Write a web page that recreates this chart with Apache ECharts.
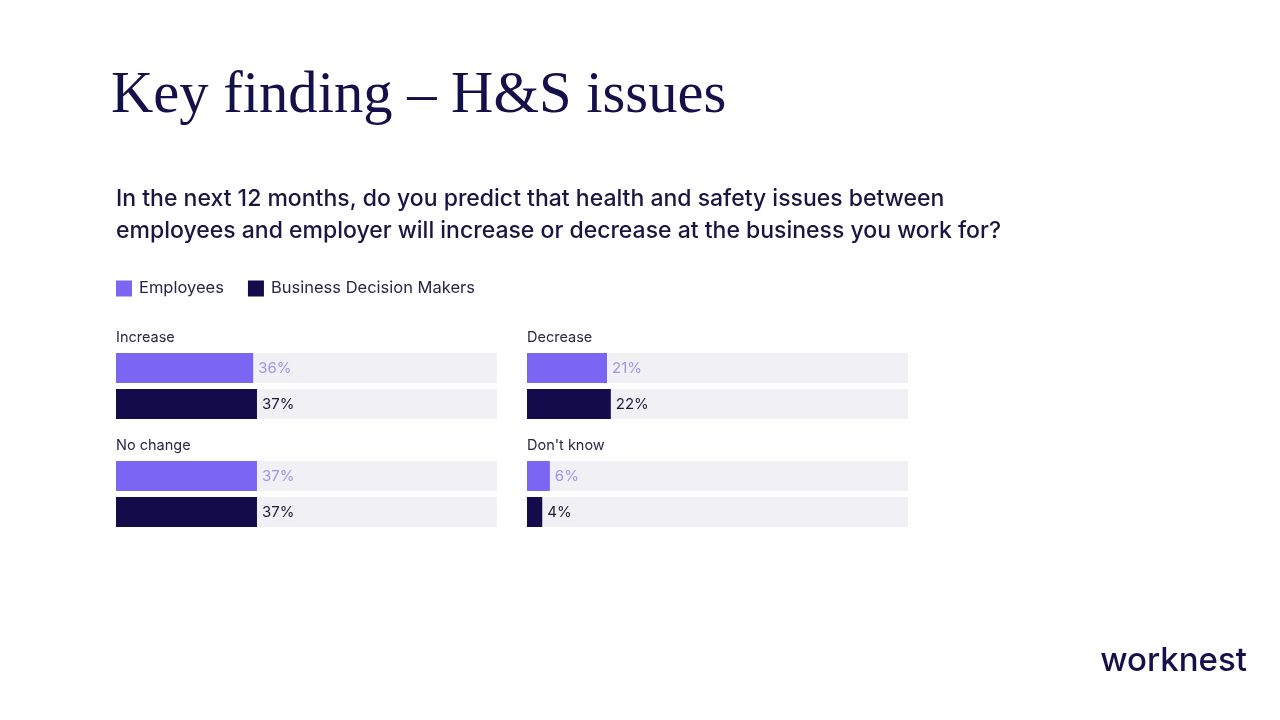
<!DOCTYPE html>
<html>
<head>
<meta charset="utf-8">
<script src="https://cdn.jsdelivr.net/npm/echarts@6/dist/echarts.min.js"></script>
<style>
html,body{margin:0;padding:0;background:#fff;}
#chart{width:1280px;height:720px;}
</style>
</head>
<body>
<div id="chart"></div>
<script>
const mainTitle = 'Key finding \u2013 H&S issues';
const questionLines = [
  'In the next 12 months, do you predict that health and safety issues between',
  'employees and employer will increase or decrease at the business you work for?'
];
const seriesNames = ['Employees', 'Business Decision Makers'];
const categories = ['Increase', 'Decrease', 'No change', "Don't know"];
const employees = [36, 21, 37, 6];
const decisionMakers = [37, 22, 37, 4];
const brand = 'worknest';

const colEmp = '#7a66f2';
const colBdm = '#140b4a';
const track = '#f1f0f4';
const uiFont = 'Inter, "Noto Sans", sans-serif';

// panel geometry (layout only)
const panels = [
  {left: 116, top: 350},
  {left: 527, top: 350},
  {left: 116, top: 458},
  {left: 527, top: 458}
];
const panelW = 381, panelH = 72;

const grid = [], xAxis = [], yAxis = [], series = [], titles = [];
categories.forEach((cat, i) => {
  const p = panels[i];
  grid.push({left: p.left, top: p.top, width: panelW, height: panelH, containLabel: false});
  xAxis.push({gridIndex: i, type: 'value', min: 0, max: 100, show: false});
  yAxis.push({gridIndex: i, type: 'category', data: [cat], show: false});
  titles.push({
    text: cat, left: p.left, top: p.top - 20, padding: 0,
    textStyle: {fontFamily: uiFont, fontSize: 14.5, fontWeight: 'normal', color: '#2b2740'}
  });
  const mk = (name, val, color, labelColor) => ({
    name, type: 'bar', xAxisIndex: i, yAxisIndex: i,
    data: [val], barWidth: 30, barGap: '20%',
    itemStyle: {color},
    showBackground: true,
    backgroundStyle: {color: track},
    label: {show: true, position: 'right', distance: 5, formatter: '{c}%',
      fontFamily: uiFont, fontSize: 15, color: labelColor},
    silent: true, animation: false
  });
  series.push(mk(seriesNames[0], employees[i], colEmp, '#a194ea'));
  series.push(mk(seriesNames[1], decisionMakers[i], colBdm, '#1d1838'));
});

const chart = echarts.init(document.getElementById('chart'));
chart.setOption({
  backgroundColor: '#ffffff',
  animation: false,
  title: titles,
  legend: {
    data: seriesNames, left: 116, top: 280, padding: 0, icon: 'rect',
    itemWidth: 16, itemHeight: 16, itemGap: 24,
    textStyle: {fontFamily: uiFont, fontSize: 16.5, color: '#2a2545', padding: [0, 0, 0, 2]},
    selectedMode: false
  },
  grid, xAxis, yAxis, series,
  graphic: [
    {type: 'text', left: 111, top: 67, style: {text: mainTitle,
      font: '58.6px "Liberation Serif", "Times New Roman", serif', fill: '#15104a'}},
    {type: 'text', left: 116, top: 183, style: {text: questionLines.join('\n'),
      fontFamily: uiFont, fontSize: 23, fontWeight: 500, lineHeight: 32, fill: '#1b1641'}},
    {type: 'text', right: 33, top: 645, style: {text: brand,
      fontFamily: uiFont, fontSize: 33, fontWeight: 500, fill: '#15104a'}}
  ]
});
</script>
</body>
</html>
